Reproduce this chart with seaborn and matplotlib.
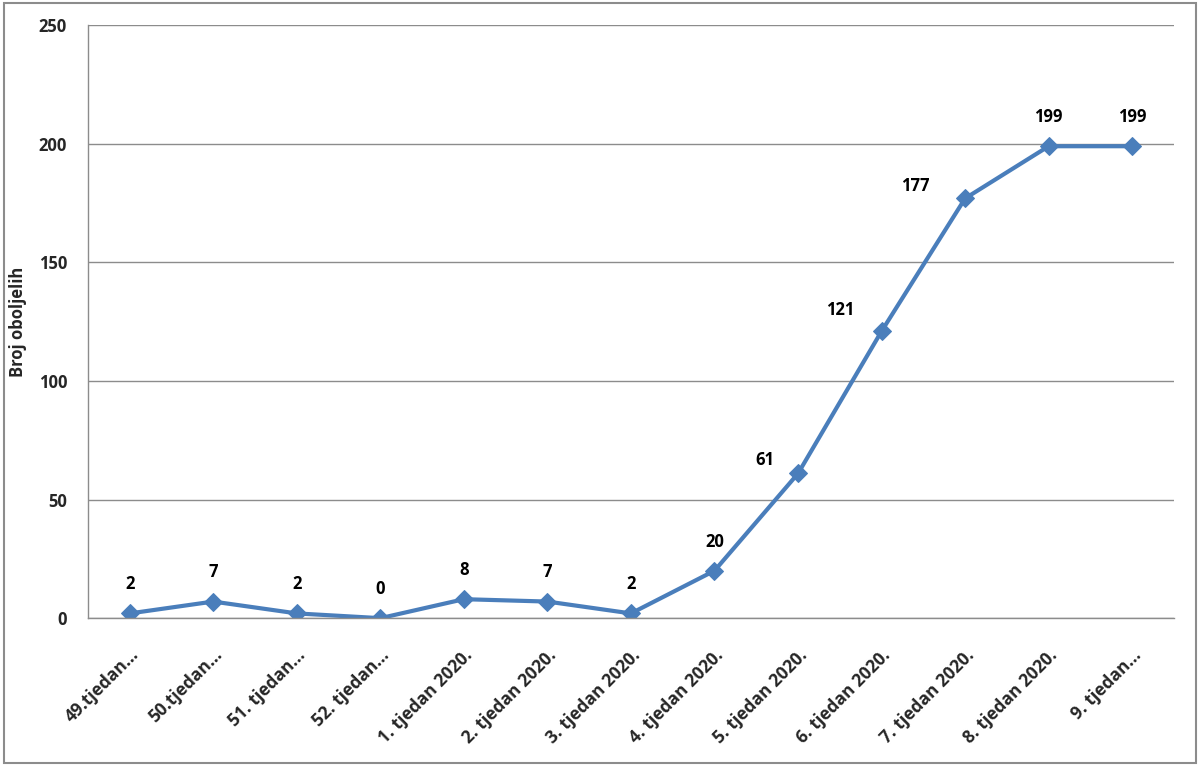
import numpy as np
import pandas as pd
import seaborn as sns
import matplotlib.pyplot as plt
from matplotlib.patches import Rectangle

weeks = ["49.tjedan...", "50.tjedan...", "51. tjedan...", "52. tjedan...",
         "1. tjedan 2020.", "2. tjedan 2020.", "3. tjedan 2020.", "4. tjedan 2020.",
         "5. tjedan 2020.", "6. tjedan 2020.", "7. tjedan 2020.", "8. tjedan 2020.",
         "9. tjedan..."]
cases = [2, 7, 2, 0, 8, 7, 2, 20, 61, 121, 177, 199, 199]

df = pd.DataFrame({"pos": np.arange(len(weeks)), "cases": cases})

sns.set_style("white")
plt.rcParams['font.family'] = ['Open Sans', 'DejaVu Sans']

fig = plt.figure(figsize=(12, 7.66), dpi=100)
ax = fig.add_axes([0.0733, 0.193, 0.905, 0.774])

blue = "#4A7EBB"
sns.lineplot(data=df, x="pos", y="cases", ax=ax, color=blue, linewidth=3,
             marker="D", markersize=9, markeredgecolor=blue)

# data labels (most sit above, the steep part is pushed up-left like Excel did)
for i, v in enumerate(cases):
    if v in (61, 121, 177):
        off = {61: (-24, 10), 121: (-30, 15), 177: (-36, 9)}[v]
    else:
        off = (0, 21)
    ax.annotate(str(v), (i, v), xytext=off, textcoords="offset points",
                ha="center", va="center", fontsize=12, fontweight="bold", color="black")

ax.set_xlim(-0.5, len(weeks) - 0.5)
ax.set_ylim(0, 250)
yt = [0, 50, 100, 150, 200, 250]
ax.set_yticks(yt, [str(t) for t in yt], fontsize=12, fontweight="bold")
ax.yaxis.grid(True, color="#8c8c8c", linewidth=1)
ax.set_axisbelow(True)

ax.set_xticks(np.arange(len(weeks) + 1) - 0.5, [""] * (len(weeks) + 1))
ax.set_xticks(np.arange(len(weeks)), weeks, minor=True, rotation=45, ha="right",
              rotation_mode="anchor", fontsize=12.5, fontweight="bold")
ax.tick_params(axis="x", which="minor", length=0, pad=20)
ax.tick_params(axis="x", which="major", length=6, color="#8c8c8c", direction="out")
ax.tick_params(axis="y", length=6, color="#8c8c8c", direction="out", pad=9)

ax.set_xlabel("")
ax.set_ylabel("Broj oboljelih", fontsize=12, fontweight="bold")
ax.yaxis.set_label_coords(-0.056, 0.5)

for s in ["top", "right"]:
    ax.spines[s].set_visible(False)
for s in ["left", "bottom"]:
    ax.spines[s].set_color("#8c8c8c")
    ax.spines[s].set_linewidth(1)

fig.patches.append(Rectangle((0.003, 0.004), 0.994, 0.992, transform=fig.transFigure,
                             fill=False, edgecolor="#8c8c8c", linewidth=1.5))

fig.savefig("out.png", dpi=100)
